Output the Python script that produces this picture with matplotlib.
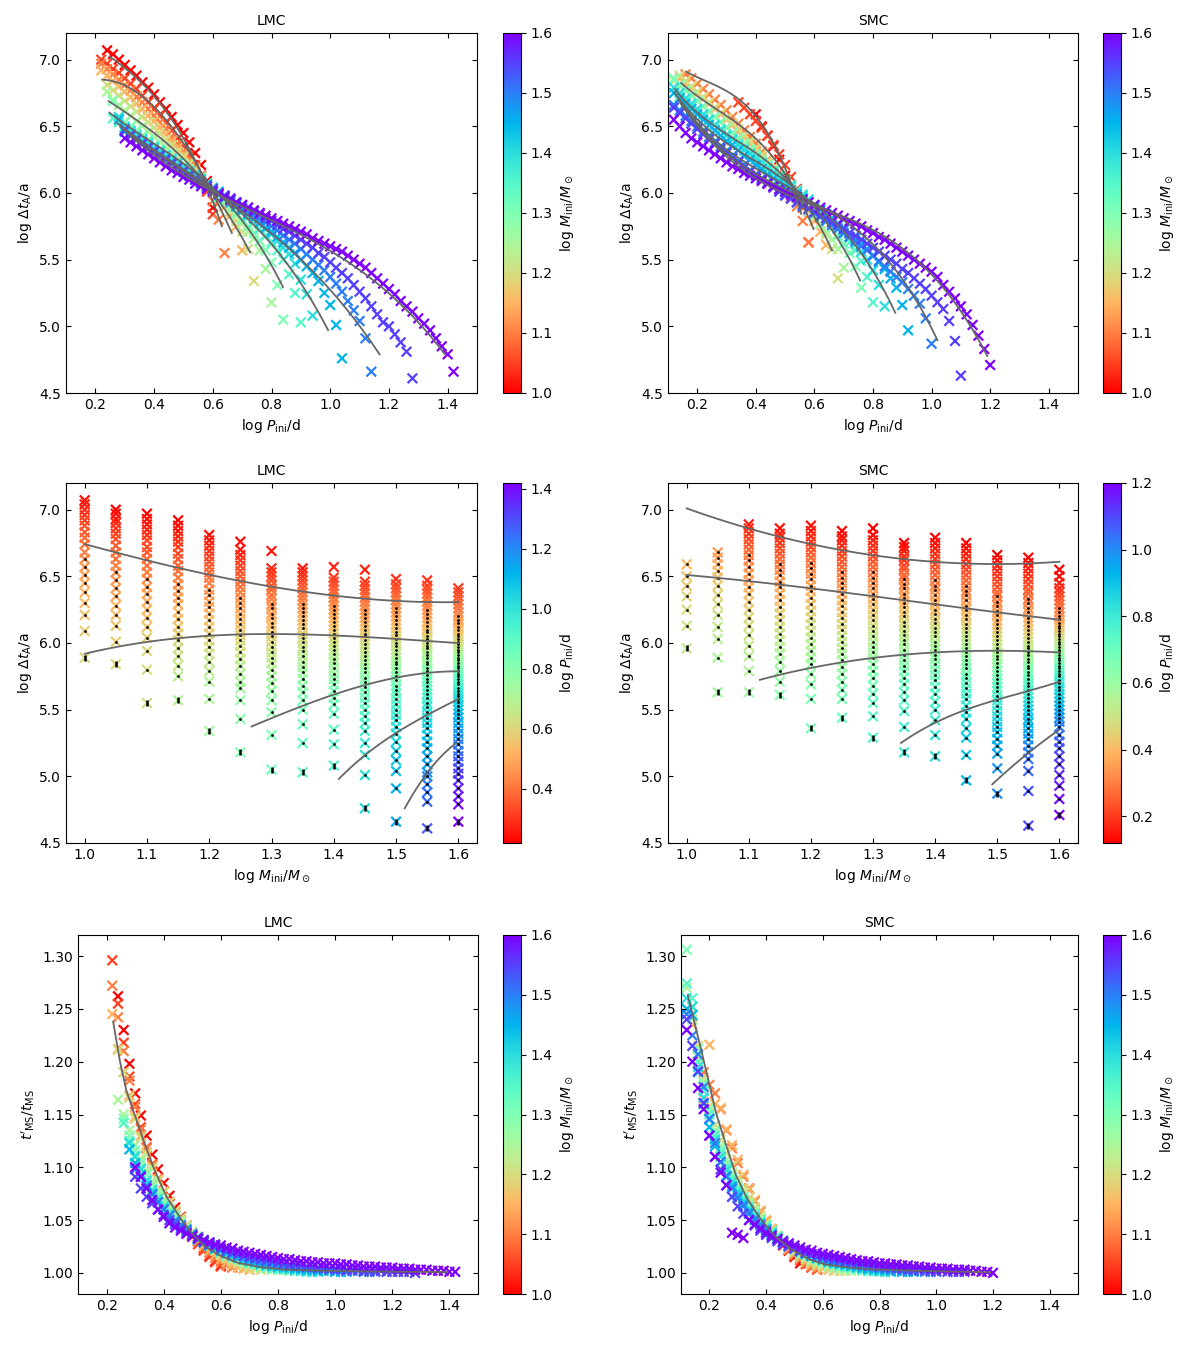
import numpy as np
import matplotlib
matplotlib.use("Agg")
import matplotlib.pyplot as plt
from matplotlib.colors import Normalize

# ---------------- data ----------------
masses = [1.0, 1.05, 1.1, 1.15, 1.2, 1.25, 1.3, 1.35, 1.4, 1.45, 1.5, 1.55, 1.6]

# LMC initial period grid (log P / d)
lmc_grid = [0.22, 0.24, 0.26, 0.28, 0.30, 0.32, 0.34, 0.36, 0.38, 0.40, 0.42, 0.44, 0.46, 0.48, 0.50,
            0.52, 0.54, 0.56, 0.58, 0.60, 0.62, 0.64, 0.66, 0.68, 0.70, 0.72, 0.74, 0.76, 0.78, 0.80,
            0.82, 0.84, 0.86, 0.88, 0.90, 0.92, 0.94, 0.96, 0.98, 1.00, 1.02, 1.04, 1.06, 1.08, 1.10,
            1.12, 1.14, 1.16, 1.18, 1.20, 1.22, 1.24, 1.26, 1.28, 1.30, 1.32, 1.34, 1.36, 1.38, 1.40, 1.42]
lmc_start = [0.24, 0.22, 0.22, 0.22, 0.24, 0.24, 0.26, 0.26, 0.28, 0.28, 0.30, 0.30, 0.30]

# log Delta t_A per mass (LMC)
lmc_dt_100 = [7.07, 7.04, 7.00, 6.96, 6.92, 6.88, 6.83, 6.79, 6.74, 6.68, 6.63, 6.57, 6.51, 6.45, 6.38, 6.30, 6.21, 6.09, 5.89]
lmc_dt_105 = [7.00, 6.97, 6.93, 6.90, 6.86, 6.82, 6.78, 6.73, 6.68, 6.63, 6.58, 6.53, 6.47, 6.41, 6.35, 6.28, 6.21, 6.13, 6.01, 5.84]
lmc_dt_110 = [6.97, 6.93, 6.89, 6.85, 6.81, 6.77, 6.72, 6.68, 6.63, 6.58, 6.53, 6.48, 6.42, 6.37, 6.31, 6.25, 6.19, 6.12, 6.04, 5.94, 5.80, 5.55]
lmc_dt_115 = [6.92, 6.88, 6.84, 6.80, 6.76, 6.72, 6.67, 6.63, 6.58, 6.54, 6.49, 6.44, 6.39, 6.34, 6.29, 6.23, 6.18, 6.12, 6.07, 6.02,
              5.96, 5.90, 5.83, 5.75, 5.57]
lmc_dt_120 = [6.81, 6.77, 6.73, 6.69, 6.65, 6.61, 6.57, 6.53, 6.49, 6.45, 6.40, 6.36, 6.31, 6.27, 6.22, 6.17, 6.12, 6.07, 6.02, 5.97,
              5.92, 5.86, 5.79, 5.71, 5.58, 5.34]
lmc_dt_125 = [6.76, 6.70, 6.66, 6.62, 6.58, 6.54, 6.50, 6.46, 6.42, 6.38, 6.34, 6.30, 6.26, 6.22, 6.18, 6.14, 6.10, 6.06, 6.02, 5.98,
              5.93, 5.88, 5.83, 5.77, 5.71, 5.66, 5.57, 5.43, 5.18]
lmc_dt_130 = [6.69, 6.56, 6.53, 6.50, 6.47, 6.43, 6.40, 6.36, 6.33, 6.29, 6.26, 6.22, 6.19, 6.15, 6.12, 6.08, 6.05, 6.01, 5.97, 5.93,
              5.89, 5.85, 5.80, 5.75, 5.70, 5.64, 5.57, 5.48, 5.31, 5.05]
lmc_dt_135 = [6.56, 6.53, 6.50, 6.47, 6.44, 6.41, 6.38, 6.35, 6.32, 6.29, 6.26, 6.23, 6.20, 6.17, 6.14, 6.11, 6.07, 6.04, 6.01, 5.97,
              5.94, 5.90, 5.86, 5.82, 5.78, 5.73, 5.68, 5.63, 5.57, 5.50, 5.39, 5.25, 5.03]
lmc_dt_140 = [6.57, 6.49, 6.46, 6.43, 6.40, 6.37, 6.34, 6.31, 6.28, 6.25, 6.22, 6.19, 6.16, 6.13, 6.10, 6.07, 6.04, 6.01, 5.98, 5.95,
              5.92, 5.88, 5.85, 5.81, 5.77, 5.73, 5.69, 5.64, 5.59, 5.54, 5.47, 5.35, 5.24, 5.08]
lmc_dt_145 = [6.55, 6.46, 6.43, 6.40, 6.37, 6.34, 6.31, 6.28, 6.25, 6.22, 6.19, 6.16, 6.13, 6.10, 6.07, 6.05, 6.02, 5.99, 5.96, 5.93,
              5.90, 5.87, 5.84, 5.81, 5.78, 5.74, 5.71, 5.67, 5.63, 5.59, 5.55, 5.50, 5.45, 5.40, 5.34, 5.25, 5.16, 5.01, 4.76]
lmc_dt_150 = [6.48, 6.44, 6.41, 6.38, 6.35, 6.32, 6.29, 6.26, 6.23, 6.20, 6.17, 6.14, 6.11, 6.08, 6.06, 6.03, 6.00, 5.98, 5.95, 5.92,
              5.89, 5.86, 5.84, 5.81, 5.78, 5.75, 5.72, 5.68, 5.65, 5.62, 5.58, 5.54, 5.50, 5.46, 5.42, 5.37, 5.32, 5.26, 5.19, 5.12,
              5.04, 4.91, 4.66]
lmc_dt_155 = [6.47, 6.43, 6.40, 6.37, 6.34, 6.31, 6.28, 6.25, 6.22, 6.19, 6.16, 6.13, 6.10, 6.08, 6.05, 6.03, 6.00, 5.98, 5.96, 5.93,
              5.91, 5.89, 5.86, 5.84, 5.81, 5.79, 5.76, 5.73, 5.71, 5.68, 5.65, 5.62, 5.59, 5.55, 5.52, 5.48, 5.44, 5.40, 5.36, 5.31,
              5.26, 5.21, 5.15, 5.09, 5.03, 5.00, 4.94, 4.88, 4.81, 4.61]
lmc_dt_160 = [6.41, 6.38, 6.35, 6.32, 6.29, 6.26, 6.23, 6.20, 6.17, 6.15, 6.12, 6.10, 6.07, 6.05, 6.03, 6.01, 5.99, 5.97, 5.95, 5.93,
              5.91, 5.89, 5.87, 5.85, 5.83, 5.81, 5.79, 5.77, 5.75, 5.73, 5.71, 5.69, 5.66, 5.64, 5.62, 5.60, 5.58, 5.56, 5.53, 5.50,
              5.47, 5.44, 5.40, 5.36, 5.32, 5.28, 5.24, 5.19, 5.15, 5.11, 5.06, 5.02, 4.97, 4.91, 4.85, 4.79, 4.66]

# t'_MS / t_MS per mass (LMC)
lmc_rt_100 = [1.262, 1.230, 1.198, 1.170, 1.149, 1.130, 1.112, 1.098, 1.085, 1.073, 1.062, 1.053, 1.045, 1.037, 1.030, 1.023,
              1.016, 1.011, 1.007]
lmc_rt_105 = [1.296, 1.255, 1.218, 1.186, 1.160, 1.138, 1.119, 1.103, 1.089, 1.077, 1.066, 1.057, 1.049, 1.041, 1.034, 1.027,
              1.021, 1.015, 1.010, 1.006]
lmc_rt_110 = [1.272, 1.242, 1.210, 1.182, 1.157, 1.136, 1.118, 1.102, 1.089, 1.077, 1.067, 1.058, 1.050, 1.043, 1.036, 1.030,
              1.024, 1.019, 1.014, 1.010, 1.007, 1.005]
lmc_rt_115 = [1.245, 1.212, 1.190, 1.168, 1.148, 1.130, 1.114, 1.100, 1.088, 1.077, 1.067, 1.058, 1.050, 1.043, 1.037, 1.031,
              1.026, 1.021, 1.017, 1.013, 1.010, 1.007, 1.005, 1.004, 1.003]
lmc_rt_120 = [1.211, 1.190, 1.166, 1.146, 1.128, 1.112, 1.099, 1.087, 1.076, 1.067, 1.059, 1.052, 1.045, 1.039, 1.034, 1.029,
              1.025, 1.021, 1.017, 1.014, 1.011, 1.009, 1.007, 1.005, 1.004, 1.003]
lmc_rt_125 = [1.164, 1.150, 1.135, 1.121, 1.108, 1.097, 1.087, 1.078, 1.070, 1.062, 1.055, 1.049, 1.043, 1.038, 1.034, 1.030,
              1.026, 1.022, 1.019, 1.016, 1.014, 1.012, 1.010, 1.008, 1.007, 1.005, 1.004, 1.003, 1.003]
lmc_rt_130 = [1.146, 1.130, 1.116, 1.104, 1.093, 1.083, 1.074, 1.066, 1.059, 1.053, 1.047, 1.042, 1.037, 1.033, 1.029, 1.026,
              1.023, 1.020, 1.017, 1.015, 1.013, 1.011, 1.009, 1.008, 1.006, 1.005, 1.004, 1.003, 1.003, 1.002]
lmc_rt_135 = [1.142, 1.125, 1.111, 1.099, 1.088, 1.079, 1.070, 1.063, 1.056, 1.050, 1.045, 1.040, 1.036, 1.032, 1.029, 1.026,
              1.023, 1.020, 1.018, 1.016, 1.014, 1.012, 1.010, 1.009, 1.008, 1.006, 1.005, 1.004, 1.004, 1.003, 1.002, 1.002, 1.001]
lmc_rt_140 = [1.123, 1.110, 1.098, 1.087, 1.078, 1.070, 1.062, 1.056, 1.050, 1.045, 1.040, 1.036, 1.032, 1.029, 1.026, 1.023,
              1.021, 1.018, 1.016, 1.014, 1.013, 1.011, 1.010, 1.008, 1.007, 1.006, 1.005, 1.004, 1.004, 1.003, 1.002, 1.002,
              1.001, 1.001]
lmc_rt_145 = [1.117, 1.104, 1.093, 1.083, 1.075, 1.067, 1.060, 1.054, 1.048, 1.044, 1.039, 1.035, 1.032, 1.029, 1.026, 1.023,
              1.021, 1.019, 1.017, 1.015, 1.013, 1.012, 1.011, 1.009, 1.008, 1.007, 1.006, 1.006, 1.005, 1.004, 1.004, 1.003,
              1.003, 1.002, 1.002, 1.002, 1.001, 1.001, 1.001]
lmc_rt_150 = [1.098, 1.091, 1.082, 1.074, 1.067, 1.060, 1.054, 1.049, 1.045, 1.041, 1.037, 1.034, 1.031, 1.028, 1.026, 1.023,
              1.021, 1.019, 1.017, 1.016, 1.014, 1.013, 1.012, 1.011, 1.010, 1.009, 1.008, 1.007, 1.006, 1.006, 1.005, 1.005,
              1.004, 1.004, 1.003, 1.003, 1.003, 1.002, 1.002, 1.002, 1.001, 1.001, 1.001]
lmc_rt_155 = [1.091, 1.080, 1.072, 1.066, 1.060, 1.055, 1.050, 1.046, 1.042, 1.038, 1.035, 1.032, 1.029, 1.027, 1.025, 1.023,
              1.021, 1.019, 1.018, 1.016, 1.015, 1.014, 1.013, 1.012, 1.011, 1.010, 1.009, 1.008, 1.008, 1.007, 1.006, 1.006,
              1.005, 1.005, 1.004, 1.004, 1.004, 1.003, 1.003, 1.003, 1.002, 1.002, 1.002, 1.002, 1.001, 1.001, 1.001, 1.001,
              1.001, 1.000]
lmc_rt_160 = [1.100, 1.091, 1.080, 1.069, 1.060, 1.053, 1.047, 1.043, 1.040, 1.037, 1.035, 1.033, 1.031, 1.029, 1.027, 1.026,
              1.024, 1.023, 1.021, 1.020, 1.019, 1.018, 1.017, 1.016, 1.015, 1.014, 1.013, 1.013, 1.012, 1.011, 1.011, 1.010,
              1.010, 1.009, 1.009, 1.009, 1.008, 1.008, 1.007, 1.007, 1.006, 1.006, 1.006, 1.005, 1.005, 1.005, 1.004, 1.004,
              1.004, 1.003, 1.003, 1.003, 1.002, 1.002, 1.002, 1.001, 1.001]

# SMC initial period grid (log P / d)
smc_grid = [0.12, 0.14, 0.16, 0.18, 0.20, 0.22, 0.24, 0.26, 0.28, 0.30, 0.32, 0.34, 0.36, 0.38, 0.40, 0.42, 0.44, 0.46,
            0.48, 0.50, 0.52, 0.54, 0.56, 0.58, 0.60, 0.62, 0.64, 0.66, 0.68, 0.70, 0.72, 0.74, 0.76, 0.78, 0.80, 0.82,
            0.84, 0.86, 0.88, 0.90, 0.92, 0.94, 0.96, 0.98, 1.00, 1.02, 1.04, 1.06, 1.08, 1.10, 1.12, 1.14, 1.16, 1.18, 1.20]
smc_start = [0.40, 0.34, 0.16, 0.14, 0.14, 0.12, 0.12, 0.12, 0.12, 0.12, 0.12, 0.12, 0.12]

smc_dt_100 = [6.59, 6.50, 6.43, 6.35, 6.25, 6.13, 5.96]
smc_dt_105 = [6.68, 6.64, 6.59, 6.54, 6.49, 6.43, 6.36, 6.29, 6.21, 6.12, 6.03, 5.89, 5.63]
smc_dt_110 = [6.89, 6.86, 6.82, 6.78, 6.74, 6.70, 6.66, 6.62, 6.57, 6.52, 6.47, 6.42, 6.37, 6.31, 6.25, 6.19, 6.13, 6.06,
              5.98, 5.90, 5.79, 5.63]
smc_dt_115 = [6.86, 6.82, 6.79, 6.75, 6.71, 6.67, 6.63, 6.59, 6.55, 6.51, 6.46, 6.42, 6.37, 6.32, 6.27, 6.22, 6.17, 6.12,
              6.07, 6.02, 5.97, 5.92, 5.86, 5.79, 5.71, 5.61]
smc_dt_120 = [6.88, 6.84, 6.80, 6.76, 6.72, 6.68, 6.64, 6.60, 6.56, 6.52, 6.48, 6.43, 6.39, 6.34, 6.29, 6.24, 6.19, 6.14,
              6.09, 6.04, 5.99, 5.94, 5.89, 5.84, 5.77, 5.69, 5.58, 5.36]
smc_dt_125 = [6.84, 6.80, 6.77, 6.73, 6.69, 6.65, 6.61, 6.57, 6.53, 6.49, 6.45, 6.41, 6.37, 6.32, 6.28, 6.23, 6.19, 6.14,
              6.10, 6.05, 6.01, 5.96, 5.92, 5.87, 5.82, 5.77, 5.71, 5.65, 5.58, 5.44]
smc_dt_130 = [6.86, 6.81, 6.77, 6.73, 6.69, 6.65, 6.61, 6.57, 6.53, 6.49, 6.45, 6.41, 6.37, 6.33, 6.29, 6.25, 6.21, 6.17,
              6.13, 6.09, 6.05, 6.01, 5.97, 5.93, 5.89, 5.84, 5.79, 5.74, 5.68, 5.62, 5.55, 5.45, 5.29]
smc_dt_135 = [6.75, 6.72, 6.69, 6.65, 6.62, 6.58, 6.55, 6.51, 6.48, 6.44, 6.41, 6.37, 6.34, 6.30, 6.27, 6.23, 6.20, 6.16,
              6.13, 6.09, 6.06, 6.02, 5.99, 5.95, 5.91, 5.87, 5.83, 5.79, 5.74, 5.69, 5.63, 5.57, 5.49, 5.37, 5.18]
smc_dt_140 = [6.79, 6.75, 6.71, 6.67, 6.63, 6.59, 6.55, 6.51, 6.47, 6.43, 6.40, 6.36, 6.32, 6.29, 6.25, 6.22, 6.18, 6.15,
              6.11, 6.08, 6.05, 6.01, 5.98, 5.95, 5.91, 5.88, 5.84, 5.80, 5.76, 5.72, 5.67, 5.62, 5.56, 5.50, 5.42, 5.31, 5.15]
smc_dt_145 = [6.75, 6.71, 6.67, 6.63, 6.59, 6.55, 6.51, 6.47, 6.43, 6.39, 6.36, 6.32, 6.28, 6.25, 6.21, 6.18, 6.14, 6.11,
              6.08, 6.05, 6.02, 5.99, 5.96, 5.93, 5.90, 5.87, 5.84, 5.81, 5.77, 5.74, 5.70, 5.66, 5.62, 5.58, 5.53, 5.48,
              5.43, 5.36, 5.29, 5.16, 4.97]
smc_dt_150 = [6.66, 6.62, 6.58, 6.54, 6.50, 6.46, 6.42, 6.38, 6.35, 6.31, 6.28, 6.24, 6.21, 6.17, 6.14, 6.11, 6.08, 6.05,
              6.02, 5.99, 5.96, 5.93, 5.90, 5.88, 5.85, 5.82, 5.79, 5.76, 5.73, 5.70, 5.67, 5.64, 5.60, 5.57, 5.53, 5.49,
              5.45, 5.41, 5.37, 5.33, 5.28, 5.23, 5.17, 5.06, 4.87]
smc_dt_155 = [6.64, 6.60, 6.56, 6.52, 6.48, 6.44, 6.40, 6.37, 6.33, 6.30, 6.26, 6.23, 6.19, 6.16, 6.13, 6.10, 6.07, 6.04,
              6.01, 5.98, 5.96, 5.93, 5.91, 5.88, 5.86, 5.83, 5.81, 5.78, 5.76, 5.73, 5.70, 5.68, 5.65, 5.62, 5.59, 5.56,
              5.53, 5.50, 5.47, 5.43, 5.40, 5.36, 5.32, 5.28, 5.23, 5.18, 5.13, 5.04, 4.89, 4.63]
smc_dt_160 = [6.55, 6.50, 6.45, 6.41, 6.38, 6.35, 6.32, 6.29, 6.26, 6.23, 6.20, 6.18, 6.15, 6.13, 6.11, 6.09, 6.07, 6.05,
              6.03, 6.01, 5.99, 5.97, 5.95, 5.93, 5.91, 5.89, 5.87, 5.85, 5.83, 5.81, 5.79, 5.77, 5.75, 5.72, 5.70, 5.67,
              5.65, 5.62, 5.59, 5.56, 5.53, 5.50, 5.47, 5.44, 5.41, 5.37, 5.31, 5.26, 5.21, 5.15, 5.09, 5.01, 4.93, 4.83, 4.71]

smc_rt_100 = [1.045, 1.038, 1.032, 1.026, 1.021, 1.015, 1.009]
smc_rt_105 = [1.080, 1.068, 1.058, 1.049, 1.041, 1.034, 1.028, 1.022, 1.017, 1.012, 1.008, 1.005, 1.003]
smc_rt_110 = [1.205, 1.190, 1.178, 1.170, 1.155, 1.135, 1.118, 1.104, 1.091, 1.079, 1.068, 1.058, 1.049, 1.041, 1.034,
              1.028, 1.022, 1.017, 1.013, 1.009, 1.006, 1.004]
smc_rt_115 = [1.235, 1.200, 1.165, 1.216, 1.160, 1.156, 1.136, 1.121, 1.107, 1.093, 1.080, 1.069, 1.059, 1.050, 1.042,
              1.035, 1.029, 1.024, 1.019, 1.015, 1.011, 1.008, 1.006, 1.004, 1.003, 1.002]
smc_rt_120 = [1.245, 1.215, 1.185, 1.158, 1.140, 1.126, 1.113, 1.101, 1.090, 1.080, 1.071, 1.062, 1.054, 1.047, 1.040,
              1.034, 1.029, 1.024, 1.020, 1.016, 1.013, 1.010, 1.008, 1.006, 1.004, 1.003, 1.002, 1.002]
smc_rt_125 = [1.270, 1.240, 1.205, 1.178, 1.154, 1.135, 1.120, 1.107, 1.095, 1.085, 1.076, 1.067, 1.059, 1.052, 1.046,
              1.040, 1.035, 1.030, 1.026, 1.022, 1.018, 1.015, 1.012, 1.010, 1.008, 1.006, 1.005, 1.004, 1.003, 1.002]
smc_rt_130 = [1.306, 1.252, 1.212, 1.180, 1.155, 1.134, 1.117, 1.103, 1.091, 1.081, 1.072, 1.064, 1.057, 1.050, 1.045,
              1.040, 1.035, 1.031, 1.027, 1.023, 1.020, 1.017, 1.015, 1.013, 1.011, 1.009, 1.008, 1.006, 1.005, 1.004,
              1.003, 1.002, 1.002]
smc_rt_135 = [1.274, 1.260, 1.200, 1.172, 1.150, 1.130, 1.114, 1.100, 1.089, 1.079, 1.070, 1.062, 1.055, 1.049, 1.044,
              1.039, 1.034, 1.030, 1.027, 1.024, 1.021, 1.018, 1.016, 1.014, 1.012, 1.010, 1.009, 1.007, 1.006, 1.005,
              1.004, 1.003, 1.002, 1.002, 1.001]
smc_rt_140 = [1.260, 1.252, 1.195, 1.166, 1.145, 1.126, 1.110, 1.097, 1.086, 1.076, 1.068, 1.060, 1.053, 1.047, 1.042,
              1.037, 1.033, 1.029, 1.026, 1.023, 1.020, 1.018, 1.016, 1.014, 1.012, 1.010, 1.009, 1.008, 1.007, 1.006,
              1.005, 1.004, 1.003, 1.002, 1.002, 1.001, 1.001]
smc_rt_145 = [1.250, 1.244, 1.190, 1.160, 1.138, 1.120, 1.105, 1.092, 1.082, 1.073, 1.065, 1.058, 1.051, 1.046, 1.041,
              1.036, 1.032, 1.029, 1.026, 1.023, 1.020, 1.018, 1.016, 1.014, 1.013, 1.011, 1.010, 1.009, 1.008, 1.007,
              1.006, 1.005, 1.004, 1.004, 1.003, 1.003, 1.002, 1.002, 1.001, 1.001, 1.001]
smc_rt_150 = [1.245, 1.225, 1.207, 1.176, 1.146, 1.123, 1.105, 1.091, 1.080, 1.071, 1.063, 1.056, 1.050, 1.045, 1.040,
              1.036, 1.032, 1.029, 1.026, 1.024, 1.021, 1.019, 1.017, 1.016, 1.014, 1.013, 1.012, 1.011, 1.010, 1.009,
              1.008, 1.007, 1.006, 1.006, 1.005, 1.004, 1.004, 1.003, 1.003, 1.002, 1.002, 1.002, 1.001, 1.001, 1.001]
smc_rt_155 = [1.240, 1.215, 1.191, 1.161, 1.130, 1.110, 1.098, 1.083, 1.072, 1.063, 1.056, 1.050, 1.045, 1.040, 1.036,
              1.033, 1.030, 1.027, 1.025, 1.023, 1.021, 1.019, 1.018, 1.016, 1.015, 1.014, 1.013, 1.012, 1.011, 1.010,
              1.009, 1.008, 1.008, 1.007, 1.006, 1.006, 1.005, 1.005, 1.004, 1.004, 1.003, 1.003, 1.003, 1.002, 1.002,
              1.002, 1.001, 1.001, 1.001, 1.001]
smc_rt_160 = [1.230, 1.200, 1.175, 1.155, 1.130, 1.110, 1.095, 1.083, 1.038, 1.036, 1.033, 1.050, 1.046, 1.042, 1.038,
              1.035, 1.032, 1.030, 1.028, 1.026, 1.024, 1.022, 1.021, 1.019, 1.018, 1.017, 1.016, 1.015, 1.014, 1.013,
              1.012, 1.011, 1.011, 1.010, 1.009, 1.009, 1.008, 1.008, 1.007, 1.007, 1.006, 1.006, 1.005, 1.005, 1.004,
              1.004, 1.004, 1.003, 1.003, 1.003, 1.002, 1.002, 1.001, 1.001, 1.000]

# fitted relations, top row: one curve per mass 1.0, 1.1, ..., 1.6 (anchor points)
lmc_fitP_p = [[0.248, 0.407, 0.475, 0.555, 0.631],
              [0.223, 0.42, 0.575, 0.665],
              [0.245, 0.40, 0.58, 0.727],
              [0.248, 0.40, 0.58, 0.72, 0.839],
              [0.273, 0.42, 0.58, 0.80, 0.993],
              [0.288, 0.44, 0.60, 0.90, 1.168],
              [0.293, 0.45, 0.60, 0.80, 1.00, 1.214, 1.39]]
lmc_fitP_dt = [[7.025, 6.71, 6.50, 6.175, 5.75],
               [6.85, 6.60, 6.10, 5.70],
               [6.69, 6.45, 6.06, 5.555],
               [6.60, 6.38, 6.06, 5.75, 5.29],
               [6.525, 6.30, 6.05, 5.62, 4.97],
               [6.495, 6.25, 6.02, 5.50, 4.79],
               [6.475, 6.22, 6.02, 5.78, 5.55, 5.25, 4.78]]
smc_fitP_p = [[0.162, 0.333, 0.412, 0.48, 0.555],
              [0.145, 0.35, 0.526, 0.597],
              [0.123, 0.33, 0.526, 0.66],
              [0.123, 0.33, 0.526, 0.65, 0.756],
              [0.134, 0.33, 0.526, 0.70, 0.876],
              [0.14, 0.33, 0.526, 0.80, 1.02],
              [0.151, 0.33, 0.526, 0.80, 1.00, 1.094, 1.19]]
smc_fitP_dt = [[6.91, 6.725, 6.525, 6.30, 5.84],
               [6.825, 6.50, 6.05, 5.73],
               [6.78, 6.40, 6.05, 5.57],
               [6.75, 6.33, 6.05, 5.75, 5.345],
               [6.71, 6.27, 6.04, 5.70, 5.105],
               [6.69, 6.22, 6.03, 5.60, 4.90],
               [6.66, 6.18, 6.02, 5.69, 5.375, 5.175, 4.76]]

# fitted relations, middle row: curves at fixed initial period
lmc_fitM_m = [[1.0, 1.1, 1.2, 1.3, 1.4, 1.5, 1.6],
              [1.0, 1.1, 1.2, 1.3, 1.4, 1.5, 1.6],
              [1.268, 1.35, 1.45, 1.55, 1.6],
              [1.408, 1.5, 1.55, 1.6],
              [1.514, 1.55, 1.597]]
lmc_fitM_dt = [[6.74, 6.625, 6.51, 6.42, 6.355, 6.32, 6.305],
               [5.92, 6.005, 6.055, 6.07, 6.055, 6.03, 6.0],
               [5.375, 5.525, 5.69, 5.77, 5.79],
               [4.98, 5.325, 5.46, 5.58],
               [4.76, 5.025, 5.25]]
smc_fitM_m = [[1.0, 1.1, 1.2, 1.3, 1.4, 1.5, 1.6],
              [1.0, 1.2, 1.4, 1.6],
              [1.118, 1.2, 1.3, 1.4, 1.5, 1.6],
              [1.345, 1.45, 1.5, 1.6],
              [1.492, 1.55, 1.6]]
smc_fitM_dt = [[7.01, 6.86, 6.74, 6.66, 6.61, 6.59, 6.61],
               [6.51, 6.41, 6.29, 6.175],
               [5.725, 5.81, 5.89, 5.93, 5.94, 5.93],
               [5.25, 5.50, 5.575, 5.71],
               [4.94, 5.175, 5.35]]

# fitted relation, bottom row
lmc_fitR_p = [0.223, 0.247, 0.27, 0.302, 0.33, 0.364, 0.41, 0.463, 0.50, 0.545, 0.60, 0.662, 0.74, 0.826, 1.0, 1.2, 1.393]
lmc_fitR_r = [1.238, 1.200, 1.172, 1.147, 1.125, 1.100, 1.072, 1.050, 1.037, 1.025, 1.016, 1.0093, 1.0055, 1.003,
              1.0018, 1.0011, 1.0008]
smc_fitR_p = [0.124, 0.145, 0.165, 0.19, 0.223, 0.258, 0.293, 0.33, 0.375, 0.43, 0.491, 0.55, 0.608, 0.7, 0.8, 1.0, 1.19]
smc_fitR_r = [1.263, 1.240, 1.218, 1.19, 1.152, 1.122, 1.093, 1.072, 1.053, 1.035, 1.022, 1.013, 1.008, 1.0048, 1.003,
              1.0015, 1.0006]

lmc_dt = [lmc_dt_100, lmc_dt_105, lmc_dt_110, lmc_dt_115, lmc_dt_120, lmc_dt_125, lmc_dt_130,
          lmc_dt_135, lmc_dt_140, lmc_dt_145, lmc_dt_150, lmc_dt_155, lmc_dt_160]
lmc_rt = [lmc_rt_100, lmc_rt_105, lmc_rt_110, lmc_rt_115, lmc_rt_120, lmc_rt_125, lmc_rt_130,
          lmc_rt_135, lmc_rt_140, lmc_rt_145, lmc_rt_150, lmc_rt_155, lmc_rt_160]
smc_dt = [smc_dt_100, smc_dt_105, smc_dt_110, smc_dt_115, smc_dt_120, smc_dt_125, smc_dt_130,
          smc_dt_135, smc_dt_140, smc_dt_145, smc_dt_150, smc_dt_155, smc_dt_160]
smc_rt = [smc_rt_100, smc_rt_105, smc_rt_110, smc_rt_115, smc_rt_120, smc_rt_125, smc_rt_130,
          smc_rt_135, smc_rt_140, smc_rt_145, smc_rt_150, smc_rt_155, smc_rt_160]


def collect(grid, starts, dts, rts):
    grid = np.array(grid)
    P, M, D, R, last = [], [], [], [], []
    for m, p0, d, r in zip(masses, starts, dts, rts):
        i0 = int(np.argmin(np.abs(grid - p0)))
        n = min(len(d), len(r), len(grid) - i0)
        P += list(grid[i0:i0 + n])
        M += [m] * n
        D += d[:n]
        R += r[:n]
        last += [False] * (n - 1) + [True]
    return np.array(P), np.array(M), np.array(D), np.array(R), np.array(last)


def smooth(x, y, n=120):
    deg = min(3, len(x) - 1)
    c = np.polyfit(x, y, deg)
    xx = np.linspace(min(x), max(x), n)
    return xx, np.polyval(c, xx)


def style(ax):
    ax.tick_params(direction="in", top=True, right=True, labelsize=10)


cmap = plt.get_cmap("rainbow_r")
mnorm = Normalize(1.0, 1.6)
gray = "#666666"
MS = 48     # marker area
MLW = 1.6   # marker line width

fig = plt.figure(figsize=(12, 13.5), dpi=100)

W, H = 1200.0, 1350.0
rows_y = [(33, 393), (483, 843), (935, 1294)]
left_x = [(66, 477), (66, 477), (78, 478)]
right_x = [(668, 1078), (668, 1078), (681, 1078)]
cb_x = [503, 1103]


def make_axes(x0, x1, y0, y1):
    return fig.add_axes([x0 / W, 1 - y1 / H, (x1 - x0) / W, (y1 - y0) / H])


galaxies = [("LMC", lmc_grid, lmc_start, lmc_dt, lmc_rt, lmc_fitP_p, lmc_fitP_dt, lmc_fitM_m, lmc_fitM_dt,
             lmc_fitR_p, lmc_fitR_r, 0.44),
            ("SMC", smc_grid, smc_start, smc_dt, smc_rt, smc_fitP_p, smc_fitP_dt, smc_fitM_m, smc_fitM_dt,
             smc_fitR_p, smc_fitR_r, 0.28)]

for col, (name, grid, starts, dts, rts, fpp, fpd, fmm, fmd, frp, frr, dotcut) in enumerate(galaxies):
    P, M, D, R, last = collect(grid, starts, dts, rts)
    xs = left_x if col == 0 else right_x
    cbx = cb_x[col]

    # ---- row 1: Delta t vs log P, coloured by mass
    y0, y1 = rows_y[0]
    ax = make_axes(xs[0][0], xs[0][1], y0, y1)
    sc = ax.scatter(P, D, c=M, cmap=cmap, norm=mnorm, marker="x", s=MS, linewidths=MLW)
    for xp, yp in zip(fpp, fpd):
        xx, yy = smooth(xp, yp)
        ax.plot(xx, yy, color=gray, lw=1.3)
    ax.set_xlim(0.1, 1.5)
    ax.set_ylim(4.5, 7.2)
    ax.set_xticks([0.2, 0.4, 0.6, 0.8, 1.0, 1.2, 1.4])
    ax.set_yticks([4.5, 5.0, 5.5, 6.0, 6.5, 7.0])
    ax.set_xlabel(r"log $P_\mathrm{ini}$/d")
    ax.set_ylabel(r"log $\Delta t_\mathrm{A}$/a")
    ax.set_title(name, fontsize=10)
    style(ax)
    cax = make_axes(cbx, cbx + 18, y0, y1)
    cb = fig.colorbar(sc, cax=cax)
    cb.set_ticks([1.0, 1.1, 1.2, 1.3, 1.4, 1.5, 1.6])
    cb.set_label(r"log $M_\mathrm{ini}/M_\odot$")

    # ---- row 2: Delta t vs log M, coloured by period
    y0, y1 = rows_y[1]
    ax = make_axes(xs[1][0], xs[1][1], y0, y1)
    pnorm = Normalize(P.min(), P.max())
    sc = ax.scatter(M, D, c=P, cmap=cmap, norm=pnorm, marker="x", s=MS, linewidths=MLW)
    sel = (P >= dotcut) & (~last)
    ax.plot(M[sel], D[sel], ".", color="k", ms=2.0)
    ax.plot(M[last], D[last], "|", color="k", ms=5, mew=1.8)
    for xm, ym in zip(fmm, fmd):
        xx, yy = smooth(xm, ym)
        ax.plot(xx, yy, color=gray, lw=1.3)
    ax.set_xlim(0.97, 1.63)
    ax.set_ylim(4.5, 7.2)
    ax.set_xticks([1.0, 1.1, 1.2, 1.3, 1.4, 1.5, 1.6])
    ax.set_yticks([4.5, 5.0, 5.5, 6.0, 6.5, 7.0])
    ax.set_xlabel(r"log $M_\mathrm{ini}/M_\odot$")
    ax.set_ylabel(r"log $\Delta t_\mathrm{A}$/a")
    ax.set_title(name, fontsize=10)
    style(ax)
    cax = make_axes(cbx, cbx + 18, y0, y1)
    cb = fig.colorbar(sc, cax=cax)
    if col == 0:
        cb.set_ticks([0.4, 0.6, 0.8, 1.0, 1.2, 1.4])
    else:
        cb.set_ticks([0.2, 0.4, 0.6, 0.8, 1.0, 1.2])
    cb.set_label(r"log $P_\mathrm{ini}$/d")

    # ---- row 3: t'_MS / t_MS vs log P, coloured by mass
    y0, y1 = rows_y[2]
    ax = make_axes(xs[2][0], xs[2][1], y0, y1)
    sc = ax.scatter(P, R, c=M, cmap=cmap, norm=mnorm, marker="x", s=MS, linewidths=MLW)
    ax.plot(frp, frr, color=gray, lw=1.3)
    ax.set_xlim(0.1, 1.5)
    ax.set_ylim(0.98, 1.32)
    ax.set_xticks([0.2, 0.4, 0.6, 0.8, 1.0, 1.2, 1.4])
    ax.set_yticks([1.00, 1.05, 1.10, 1.15, 1.20, 1.25, 1.30])
    ax.set_yticklabels(["1.00", "1.05", "1.10", "1.15", "1.20", "1.25", "1.30"])
    ax.set_xlabel(r"log $P_\mathrm{ini}$/d")
    ax.set_ylabel(r"$t'_\mathrm{MS}/t_\mathrm{MS}$")
    ax.set_title(name, fontsize=10)
    style(ax)
    cax = make_axes(cbx, cbx + 18, y0, y1)
    cb = fig.colorbar(sc, cax=cax)
    cb.set_ticks([1.0, 1.1, 1.2, 1.3, 1.4, 1.5, 1.6])
    cb.set_label(r"log $M_\mathrm{ini}/M_\odot$")

fig.savefig("out.png", dpi=100)
